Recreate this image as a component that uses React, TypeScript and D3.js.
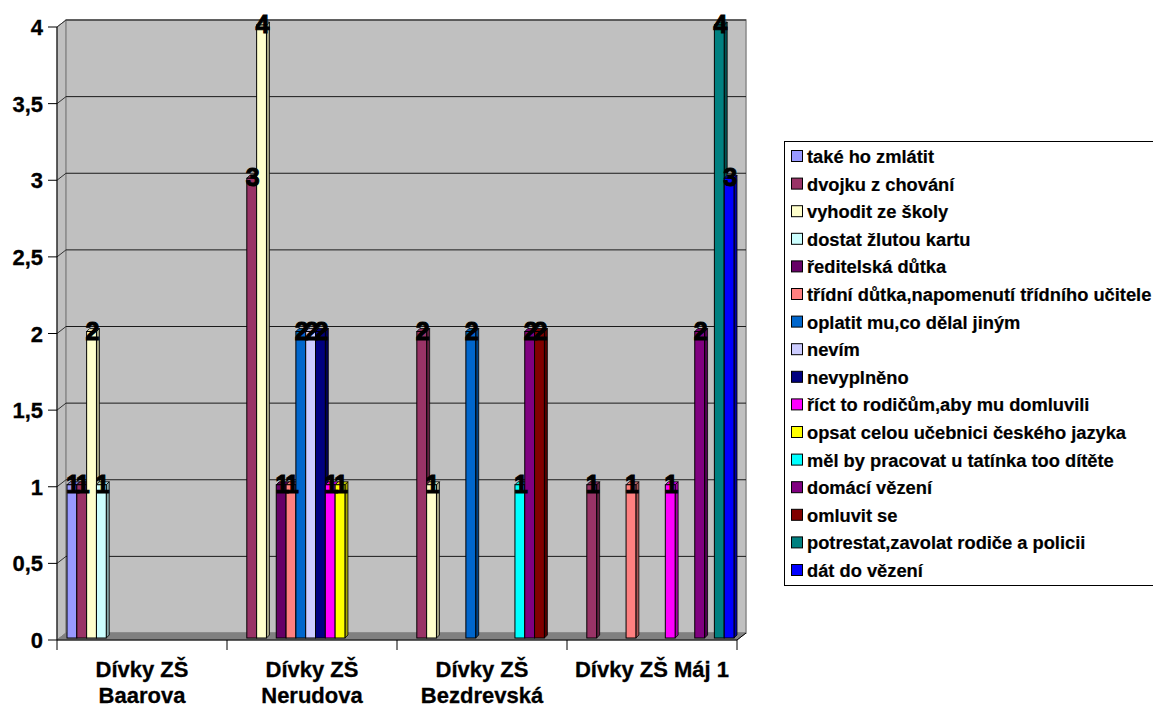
import React, { useRef, useEffect } from "react";
import * as d3 from "d3";

const categories = [
  "Dívky ZŠ Baarova",
  "Dívky ZŠ Nerudova",
  "Dívky ZŠ Bezdrevská",
  "Dívky ZŠ Máj 1",
];

const seriesNames = [
  "také ho zmlátit",
  "dvojku z chování",
  "vyhodit ze školy",
  "dostat žlutou kartu",
  "ředitelská důtka",
  "třídní důtka,napomenutí třídního učitele",
  "oplatit mu,co dělal jiným",
  "nevím",
  "nevyplněno",
  "říct to rodičům,aby mu domluvili",
  "opsat celou učebnici českého jazyka",
  "měl by pracovat u tatínka too dítěte",
  "domácí vězení",
  "omluvit se",
  "potrestat,zavolat rodiče a policii",
  "dát do vězení",
];

const seriesColors = [
  "#9999FF", "#993366", "#FFFFCC", "#CCFFFF",
  "#660066", "#FF8080", "#0066CC", "#CCCCFF",
  "#000080", "#FF00FF", "#FFFF00", "#00FFFF",
  "#800080", "#800000", "#008080", "#0000FF",
];

// one array per series, values per category
const seriesValues = [
  [1, 0, 0, 0],
  [1, 3, 2, 1],
  [2, 4, 1, 0],
  [1, 0, 0, 0],
  [0, 1, 0, 0],
  [0, 1, 0, 1],
  [0, 2, 2, 0],
  [0, 2, 0, 0],
  [0, 2, 0, 0],
  [0, 1, 0, 1],
  [0, 1, 0, 0],
  [0, 0, 1, 0],
  [0, 0, 2, 2],
  [0, 0, 2, 0],
  [0, 0, 0, 4],
  [0, 0, 0, 3],
];

const yTicks = [0, 0.5, 1, 1.5, 2, 2.5, 3, 3.5, 4];

const FONT = "'Liberation Sans', Arial, sans-serif";

const App: React.FC = () => {
  const svgRef = useRef<SVGSVGElement>(null);

  useEffect(() => {
    if (!svgRef.current) return;
    const svg = d3.select(svgRef.current);
    svg.selectAll("*").remove();

    const left = 57;
    const right = 737;
    const dx = 9;
    const dy = -7;

    const x0 = d3.scaleBand().domain(categories).range([left, right]);
    const x1 = d3
      .scaleBand()
      .domain(seriesNames)
      .range([10, x0.bandwidth() - 3]);
    const y = d3.scaleLinear().domain([0, 4]).range([640, 27]);
    const y0 = y(0);

    // walls
    svg
      .append("polygon")
      .attr("points", `${left},${y(4)} ${left + dx},${y(4) + dy} ${left + dx},${y0 + dy} ${left},${y0}`)
      .attr("fill", "#c0c0c0")
      .attr("stroke", "#808080");
    svg
      .append("rect")
      .attr("x", left + dx)
      .attr("y", y(4) + dy)
      .attr("width", right - left)
      .attr("height", y0 - y(4))
      .attr("fill", "#c0c0c0")
      .attr("stroke", "#8a8a8a")
      .attr("stroke-width", 1.5);
    svg
      .append("polygon")
      .attr("points", `${left},${y0} ${right},${y0} ${right + dx},${y0 + dy} ${left + dx},${y0 + dy}`)
      .attr("fill", "#808080")
      .attr("stroke", "#808080");

    // gridlines
    yTicks
      .filter((t) => t > 0)
      .forEach((t) => {
        svg
          .append("line")
          .attr("x1", left + dx)
          .attr("x2", right + dx)
          .attr("y1", y(t) + dy)
          .attr("y2", y(t) + dy)
          .attr("stroke", "#1a1a1a")
          .attr("stroke-width", 1);
        svg
          .append("line")
          .attr("x1", left)
          .attr("x2", left + dx)
          .attr("y1", y(t))
          .attr("y2", y(t) + dy)
          .attr("stroke", "#333")
          .attr("stroke-width", 1);
      });

    // bars (3D-ish)
    const bd = 3;
    const barsG = svg.append("g");
    categories.forEach((cat, ci) => {
      seriesNames.forEach((name, si) => {
        const v = seriesValues[si][ci];
        if (!v) return;
        const color = seriesColors[si];
        const bx = (x0(cat) as number) + (x1(name) as number);
        const bw = x1.bandwidth();
        const top = y(v) - 2;
        const bot = y0 - 2;
        barsG
          .append("polygon")
          .attr("points", `${bx + bw},${top} ${bx + bw + bd},${top - bd} ${bx + bw + bd},${bot - bd} ${bx + bw},${bot}`)
          .attr("fill", d3.color(color)!.darker(1.2).formatHex())
          .attr("stroke", "#000")
          .attr("stroke-width", 0.8);
        barsG
          .append("polygon")
          .attr("points", `${bx},${top} ${bx + bd},${top - bd} ${bx + bw + bd},${top - bd} ${bx + bw},${top}`)
          .attr("fill", d3.color(color)!.darker(0.4).formatHex())
          .attr("stroke", "#000")
          .attr("stroke-width", 0.8);
        barsG
          .append("rect")
          .attr("x", bx)
          .attr("y", top)
          .attr("width", bw)
          .attr("height", bot - top)
          .attr("fill", color)
          .attr("stroke", "#000")
          .attr("stroke-width", 1);
      });
    });

    // data labels
    categories.forEach((cat, ci) => {
      seriesNames.forEach((name, si) => {
        const v = seriesValues[si][ci];
        if (!v) return;
        const bx = (x0(cat) as number) + (x1(name) as number);
        svg
          .append("text")
          .attr("x", bx + x1.bandwidth() / 2 + 1)
          .attr("y", y(v) + 6)
          .attr("text-anchor", "middle")
          .attr("font-family", FONT)
          .attr("font-weight", "bold")
          .attr("font-size", 25)
          .attr("fill", "#000")
          .attr("stroke", "#000")
          .attr("stroke-width", 1)
          .text(String(v));
      });
    });

    // y axis
    svg
      .append("line")
      .attr("x1", left)
      .attr("x2", left)
      .attr("y1", y(4))
      .attr("y2", y0)
      .attr("stroke", "#000");
    yTicks.forEach((t) => {
      svg
        .append("line")
        .attr("x1", left - 9)
        .attr("x2", left)
        .attr("y1", y(t))
        .attr("y2", y(t))
        .attr("stroke", "#000");
      svg
        .append("text")
        .attr("x", 43)
        .attr("y", y(t) + 8)
        .attr("text-anchor", "end")
        .attr("font-family", FONT)
        .attr("font-weight", "bold")
        .attr("font-size", 22)
        .attr("stroke", "#000")
        .attr("stroke-width", 0.3)
        .text(String(t).replace(".", ","));
    });

    // x axis
    svg
      .append("polyline")
      .attr("points", `${left},${y0} ${right},${y0} ${right + dx},${y0 + dy}`)
      .attr("fill", "none")
      .attr("stroke", "#000");
    [...categories.map((c) => x0(c) as number), right].forEach((tx) => {
      svg
        .append("line")
        .attr("x1", tx)
        .attr("x2", tx)
        .attr("y1", y0)
        .attr("y2", y0 + 10)
        .attr("stroke", "#000");
    });

    categories.forEach((cat) => {
      const cx = (x0(cat) as number) + x0.bandwidth() / 2;
      const text = svg
        .append("text")
        .attr("x", cx)
        .attr("y", 677)
        .attr("text-anchor", "middle")
        .attr("font-family", FONT)
        .attr("font-weight", "bold")
        .attr("font-size", 22)
        .attr("stroke", "#000")
        .attr("stroke-width", 0.3);
      // wrap to category width
      const words = cat.split(" ");
      let line: string[] = [];
      let tspan = text.append("tspan").attr("x", cx).attr("dy", 0);
      words.forEach((w) => {
        line.push(w);
        tspan.text(line.join(" "));
        if ((tspan.node() as SVGTSpanElement).getComputedTextLength() > x0.bandwidth() - 4 && line.length > 1) {
          line.pop();
          tspan.text(line.join(" "));
          line = [w];
          tspan = text.append("tspan").attr("x", cx).attr("dy", 26).text(w);
        }
      });
    });

    // legend
    const lg = svg.append("g");
    lg.append("rect")
      .attr("x", 784.5)
      .attr("y", 141.5)
      .attr("width", 380)
      .attr("height", 444)
      .attr("fill", "#fff")
      .attr("stroke", "#000");
    seriesNames.forEach((name, i) => {
      const cy = 157 + i * 27.6;
      lg.append("rect")
        .attr("x", 791.5)
        .attr("y", cy - 6.5)
        .attr("width", 11)
        .attr("height", 11)
        .attr("fill", seriesColors[i])
        .attr("stroke", "#000");
      lg.append("text")
        .attr("x", 807)
        .attr("y", cy + 6)
        .attr("font-family", FONT)
        .attr("font-weight", "bold")
        .attr("font-size", 18.3)
        .attr("stroke", "#000")
        .attr("stroke-width", 0.2)
        .text(name);
    });
  }, []);

  return (
    <div style={{ position: "absolute", left: 0, top: 0 }}>
      <svg ref={svgRef} width={1153} height={708} style={{ display: "block", background: "#fff" }} />
    </div>
  );
};

export default App;
